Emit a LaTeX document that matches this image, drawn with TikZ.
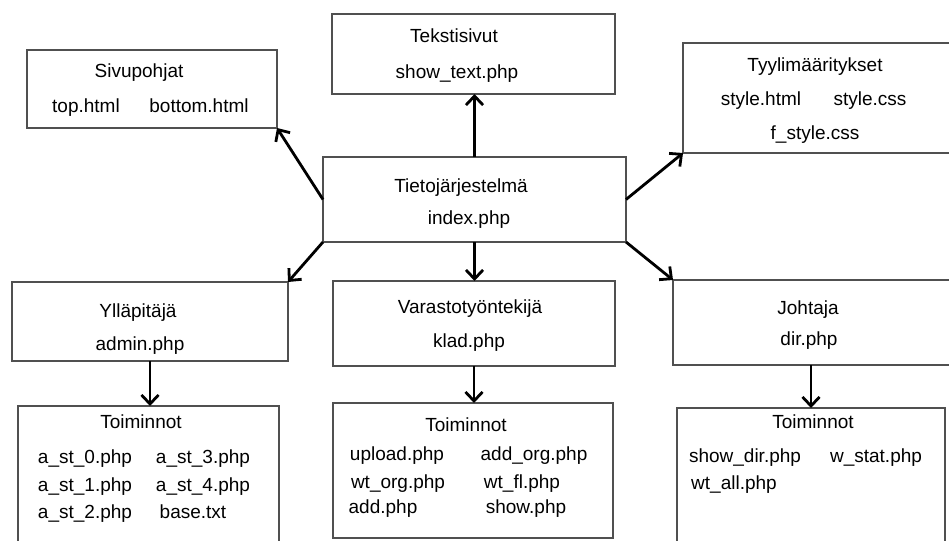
\documentclass[tikz,border=0pt]{standalone}
\usepackage{fontspec}
\setmainfont{Liberation Sans}
\usetikzlibrary{arrows.meta}
\definecolor{frame}{HTML}{505050}
\tikzset{
  box/.style={draw=frame, line width=1.6pt, inner sep=0pt, outer sep=0pt, anchor=north west},
  txt/.style={anchor=base, inner sep=0pt, font=\fontsize{19}{22}\selectfont},
  link/.style={draw=black, line width=2.8pt, -{Straight Barb[length=9pt,width=17pt]}}
}
\newcommand{\boxat}[5]{\node[box, minimum width=#4pt, minimum height=#5pt] (#1) at (#2,#3) {};}
\begin{document}
\begin{tikzpicture}[x=1pt,y=-1pt]
\useasboundingbox (0,0) rectangle (949,540);

% boxes (left, top, width, height)
\boxat{sivu}{27}{50}{250}{78}
\boxat{teksti}{332}{14}{283}{80}
\boxat{tieto}{323}{157}{303}{85}
\boxat{tyyli}{683}{43}{275}{110}
\boxat{yllapito}{12}{282}{276}{79}
\boxat{varasto}{333}{281}{282}{85}
\boxat{johtaja}{673}{280}{285}{85}
\boxat{toimA}{18}{406}{261}{140}
\boxat{toimB}{333}{403}{280}{135}
\boxat{toimC}{677}{408}{268}{138}

% labels
\node[txt] (sivuT) at (139,78) {Sivupohjat};
\node[txt] (sivuA) at (86,113) {top.html};
\node[txt] (sivuB) at (199,113) {bottom.html};

\node[txt] (tekT) at (454,43) {Tekstisivut};
\node[txt] (tekA) at (457,79) {show\_text.php};

\node[txt] (tietoT) at (461,193) {Tietojärjestelmä};
\node[txt] (tietoA) at (469,224) {index.php};

\node[txt] (tyyT) at (815,72) {Tyylimääritykset};
\node[txt] (tyyA) at (761,106) {style.html};
\node[txt] (tyyB) at (870,106) {style.css};
\node[txt] (tyyC) at (815,140) {f\_style.css};

\node[txt] (ylT) at (138,317) {Ylläpitäjä};
\node[txt] (ylA) at (140,350) {admin.php};

\node[txt] (varT) at (470,313) {Varastotyöntekijä};
\node[txt] (varA) at (469,347) {klad.php};

\node[txt] (joT) at (808,314) {Johtaja};
\node[txt] (joA) at (809,345) {dir.php};

\node[txt] (aT) at (141,428) {Toiminnot};
\node[txt] (a0) at (85,463) {a\_st\_0.php};
\node[txt] (a3) at (203,463) {a\_st\_3.php};
\node[txt] (a1) at (85,491) {a\_st\_1.php};
\node[txt] (a4) at (203,491) {a\_st\_4.php};
\node[txt] (a2) at (85,518) {a\_st\_2.php};
\node[txt] (aB) at (193,518) {base.txt};

\node[txt] (bT) at (466,431) {Toiminnot};
\node[txt] (b1) at (397,460) {upload.php};
\node[txt] (b2) at (534,460) {add\_org.php};
\node[txt] (b3) at (398,488) {wt\_org.php};
\node[txt] (b4) at (522,488) {wt\_fl.php};
\node[txt] (b5) at (383,513) {add.php};
\node[txt] (b6) at (526,513) {show.php};

\node[txt] (cT) at (813,428) {Toiminnot};
\node[txt] (c1) at (745,462) {show\_dir.php};
\node[txt] (c2) at (876,462) {w\_stat.php};
\node[txt] (c3) at (734,489) {wt\_all.php};

% connectors
\draw[link] (tieto.north) -- (tieto.north |- teksti.south);
\draw[link] (tieto.west) -- (sivu.south east);
\draw[link] (tieto.east) -- (tyyli.south west);
\draw[link] (tieto.south west) -- (yllapito.north east);
\draw[link] (tieto.south) -- (tieto.south |- varasto.north);
\draw[link] (tieto.south east) -- (johtaja.north west);
\draw[link] (yllapito.south) -- (yllapito.south |- toimA.north);
\draw[link] (varasto.south) -- (varasto.south |- toimB.north);
\draw[link] (toimC.north |- johtaja.south) -- (toimC.north);
\end{tikzpicture}
\end{document}
